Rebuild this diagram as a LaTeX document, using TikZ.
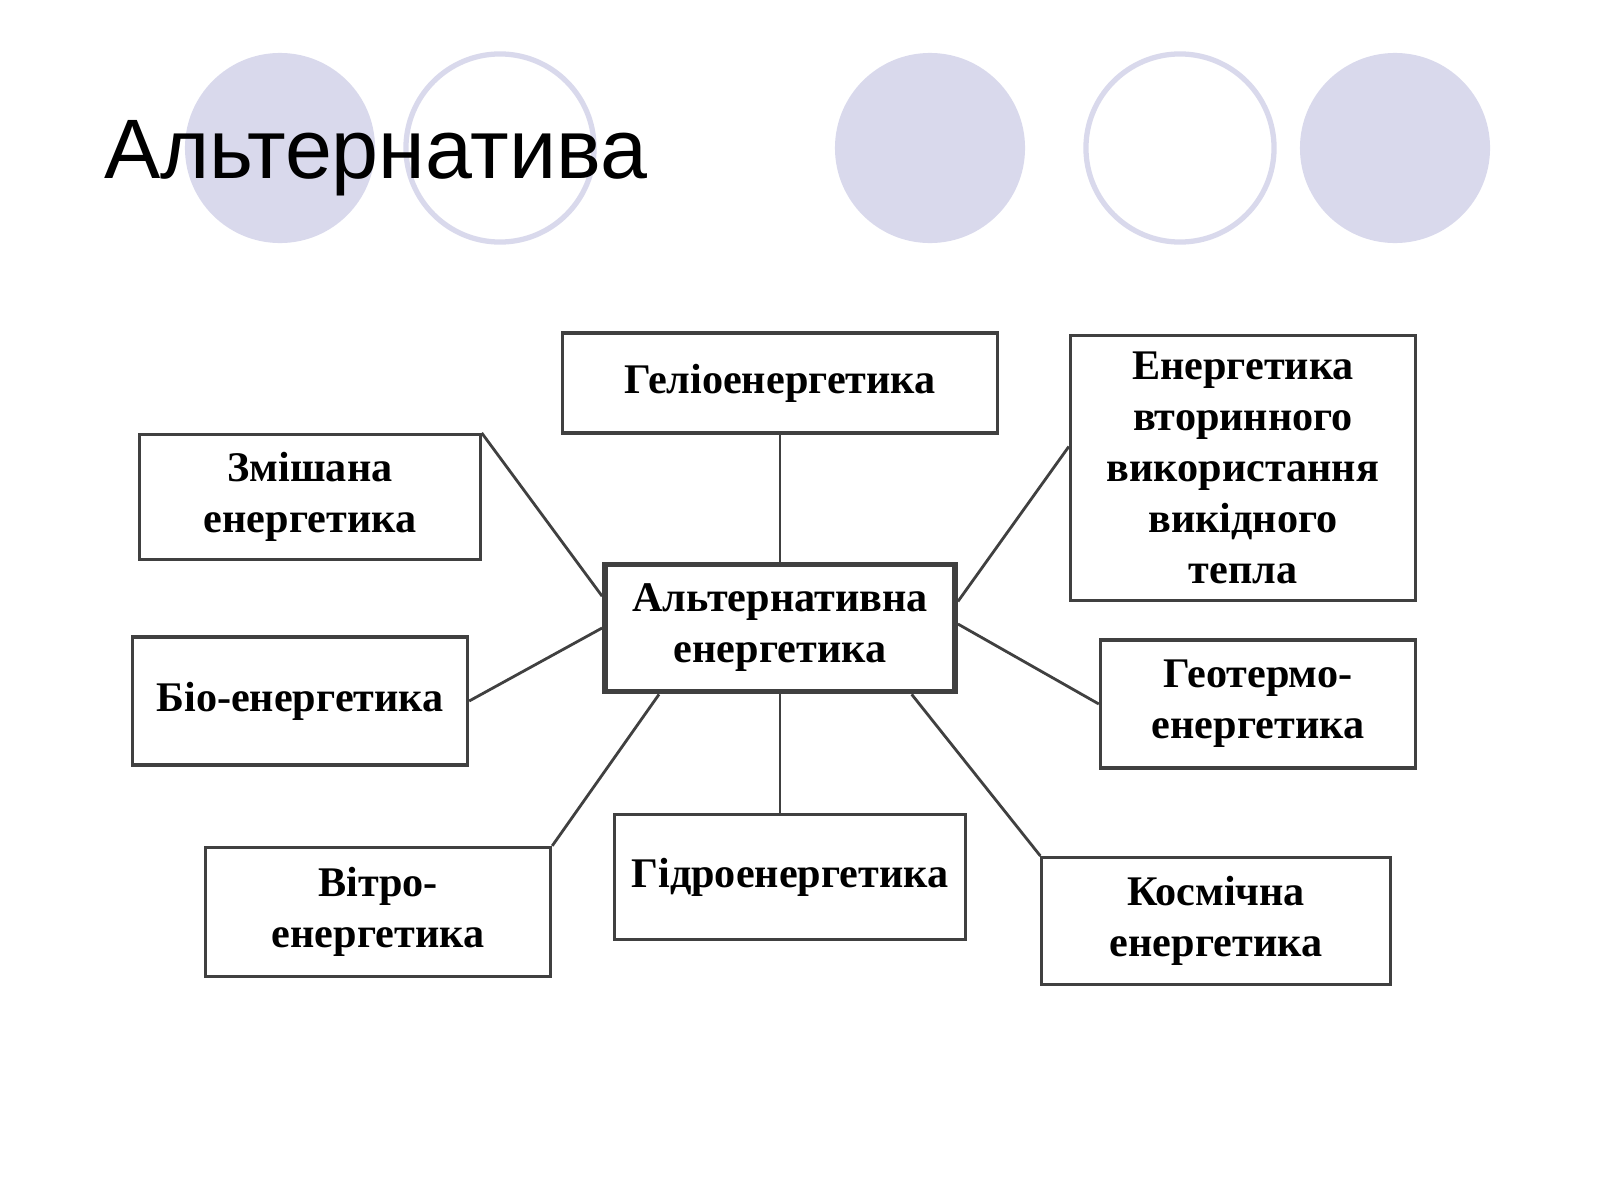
\documentclass[tikz,border=0pt]{standalone}
\usepackage{fontspec}
\setmainfont{Liberation Serif}
\newfontfamily\titlefont{Liberation Sans}
\usetikzlibrary{calc}
\definecolor{dotlilac}{HTML}{D9D9EC}

\begin{document}
\begin{tikzpicture}[x=0.01cm,y=-0.01cm,
			dot/.style={circle, fill=dotlilac, minimum size=1.9cm, inner sep=0pt},
			ring/.style={circle, draw=dotlilac, line width=1.5pt, fill=white, minimum size=1.88cm, inner sep=0pt},
			kind/.style={rectangle, draw=black!75, line width=0.9pt, align=center, inner sep=0pt, font=\fontsize{12}{14.5}\selectfont\bfseries},
			link/.style={draw=black!75, line width=0.8pt}
			]
			\useasboundingbox (0,0) rectangle (1600,1200);
			\node[dot] (D1) at (280,148) {};
			\node[ring] (D2) at (500,148) {};
			\node[dot] (D3) at (930,148) {};
			\node[ring] (D4) at (1180,148) {};
			\node[dot] (D5) at (1395,148) {};
			\node[anchor=base west, font=\titlefont\fontsize{24}{28}\selectfont] (T) at (92,178) {Альтернатива};
			
			\node[kind, line width=1.6pt, minimum width=3.5cm, minimum height=1.27cm] (C) at (780,628) {Альтернативна\\енергетика};
			\node[kind, minimum width=4.35cm, minimum height=1cm] (He) at (780,383) {Геліоенергетика};
			\node[kind, minimum width=3.4cm, minimum height=1.25cm] (Zm) at (310,497) {Змішана\\енергетика};
			\node[kind, minimum width=3.45cm, minimum height=2.65cm] (Vt) at (1243,468) {Енергетика\\вторинного\\використання\\викідного\\тепла};
			\node[kind, minimum width=3.35cm, minimum height=1.28cm] (Bi) at (300,701) {Біо-енергетика};
			\node[kind, minimum width=3.15cm, minimum height=1.28cm] (Ge) at (1258,704) {Геотермо-\\енергетика};
			\node[kind, minimum width=3.45cm, minimum height=1.29cm] (Vi) at (378,912) {Вітро-\\енергетика};
			\node[kind, minimum width=3.5cm, minimum height=1.25cm] (Gi) at (790,877) {Гідроенергетика};
			\node[kind, minimum width=3.48cm, minimum height=1.27cm] (Ko) at (1216,921) {Космічна\\енергетика};
			
			\draw[link] (C.north) -- (He.south);
			\draw[link] (Zm.north east) -- ($(C.north west)!0.26!(C.south west)$);
			\draw[link] (Bi.east) -- (C.west);
			\draw[link] (Vi.north east) -- ($(C.south west)!0.16!(C.south east)$);
			\draw[link] (Gi.north -| C.south) -- (C.south);
			\draw[link] (Ko.north west) -- ($(C.south west)!0.87!(C.south east)$);
			\draw[link] (Ge.west) -- ($(C.north east)!0.47!(C.south east)$);
			\draw[link] ($(Vt.north west)!0.42!(Vt.south west)$) -- ($(C.north east)!0.3!(C.south east)$);
		\end{tikzpicture}
\end{document}
